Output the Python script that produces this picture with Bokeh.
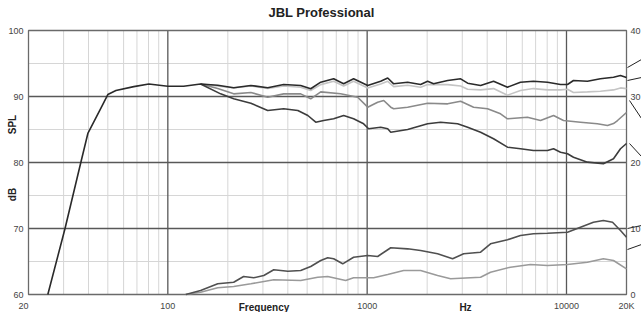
import math
from bokeh.plotting import figure
from bokeh.models import Range1d
from bokeh.core.properties import value
from bokeh.embed import file_html
from bokeh.resources import INLINE

# ---------------- data ----------------
freq_a = [25.0, 30.5, 36.6, 39.7, 46.1, 50.0, 54.9, 67.5, 80.3, 100, 120, 146, 178, 214, 261, 317, 381,
          464, 521, 585, 679, 762, 855, 1006, 1169, 1268, 1359, 1596, 1854, 2010, 2154, 2534, 2944,
          3192, 3707, 4306, 5058, 5875, 6826, 8028, 9333, 10116, 10840, 12740, 14790, 17210, 18660, 20000]
spl_a = [60.0, 70.0, 80.0, 84.4, 88.2, 90.3, 90.9, 91.5, 91.9, 91.56, 91.56, 91.9, 91.7, 91.32, 91.67, 91.32, 91.82,
         91.67, 91.17, 92.17, 92.68, 91.92, 92.68, 91.67, 92.32, 92.8, 91.92, 92.17, 91.82, 92.32, 91.92, 92.42, 92.68,
         92.02, 91.67, 92.32, 91.41, 92.17, 92.32, 92.17, 91.82, 91.82, 92.42, 92.32, 92.68, 92.92, 93.18, 92.88]

freq_b = [146, 214, 261, 317, 381, 464, 521, 585, 679, 762, 855, 1006, 1169, 1268, 1359, 1596, 1854, 2010,
          2534, 2944, 3192, 3707, 4306, 5058, 5875, 6826, 8028, 9333, 10116, 10840, 12740, 14790, 17210, 18660, 20000]
spl_b = [91.9, 91.3, 91.6, 91.2, 91.6, 91.4, 90.9, 91.8, 92.3, 91.6, 92.3, 91.3, 91.9, 92.3, 91.5, 91.7, 91.4, 91.8,
         91.8, 91.6, 91.1, 91.0, 91.2, 90.2, 90.9, 91.2, 91.0, 91.0, 91.1, 90.6, 90.7, 90.8, 91.0, 91.3, 91.2]

freq_c = [146, 178, 214, 261, 317, 381, 464, 521, 585, 736, 896, 1006, 1129, 1211, 1313, 1359, 1596, 2010,
          2534, 2944, 3420, 4017, 4667, 5058, 6368, 7407, 8610, 9660, 11750, 14290, 16060, 17210, 18030, 20000]
spl_c = [91.9, 91.2, 90.4, 90.6, 89.9, 90.4, 90.4, 89.65, 90.7, 90.41, 89.89, 88.38, 89.14, 89.39, 88.38, 88.14, 88.38, 88.98,
         88.89, 89.29, 88.38, 88.14, 87.38, 86.62, 86.86, 86.36, 87.12, 86.36, 86.11, 85.86, 85.61, 85.9, 86.36, 87.58]

freq_d = [146, 184, 214, 261, 317, 381, 449, 504, 552, 605, 679, 762, 855, 960, 1017, 1169, 1268, 1313, 1596,
          2010, 2335, 2842, 3192, 3707, 4306, 5058, 5875, 6826, 8028, 8610, 9333, 10116, 10840, 12740, 15310,
          17210, 18660, 20000]
spl_d = [91.9, 90.4, 89.65, 88.98, 87.88, 88.14, 87.88, 87.12, 86.11, 86.36, 86.62, 87.12, 86.62, 85.86, 85.11, 85.35, 85.11, 84.59, 85.0,
         85.86, 86.11, 85.86, 85.35, 84.59, 83.59, 82.32, 82.08, 81.82, 81.82, 82.08, 81.56, 81.32, 80.80, 80.05, 79.80,
         80.56, 82.08, 82.88]

freq_e = [123, 146, 178, 214, 240, 270, 303, 340, 400, 464, 521, 585, 634, 679, 754, 855, 1006, 1129, 1313, 1596,
          1854, 2256, 2683, 3048, 3707, 4158, 5058, 5875, 6826, 8028, 10116, 11750, 13650, 15310, 17020, 18660, 20000]
spl_e = [60.0, 60.61, 61.62, 61.86, 62.73, 62.53, 62.88, 63.74, 63.53, 63.64, 64.24, 65.15, 65.56, 65.41, 64.65, 65.65, 65.91, 65.76, 67.08, 66.92,
         66.67, 66.17, 65.41, 66.17, 66.41, 67.68, 68.29, 68.94, 69.20, 69.29, 69.44, 70.20, 70.95, 71.21, 70.95, 69.70, 68.68]

freq_f = [123, 146, 178, 214, 261, 340, 464, 565, 634, 780, 855, 1078, 1268, 1524, 1854, 2256, 2622, 3707, 4158,
          5236, 6592, 8028, 10116, 12740, 15310, 17210, 20000]
spl_f = [60.0, 60.35, 61.02, 61.21, 61.62, 62.23, 62.12, 62.62, 62.73, 62.12, 62.53, 62.53, 63.03, 63.64, 63.64, 62.88, 62.38, 62.62, 63.38,
         64.14, 64.55, 64.39, 64.55, 64.89, 65.41, 65.15, 63.89]

x_ticks = [20, 100, 1000, 10000, 20000]
x_tick_labels = ["20", "100", "1000", "10000", "20K"]
y_ticks = [60, 70, 80, 90, 100]
y_tick_labels = ["60", "70", "80", "90", "100"]
right_tick_labels = ["0", "10", "20", "30", "40"]
x_major_grid = [100, 1000, 10000]
x_minor_grid = [m * d for d in (10, 100, 1000) for m in range(2, 10) if 20 < m * d < 20000]
y_major_grid = [70, 80, 90]
y_minor_grid = [65, 75, 85, 95]

# ---------------- layout (screen px) ----------------
W, H = 641, 312
PL, PT, PW, PH = 28, 30, 598, 264          # plot-area box inside the canvas
X0, X1, Y0, Y1 = 20, 20000, 60, 100
DEC = PW / math.log10(X1 / X0)              # px per decade
DBP = PH / (Y1 - Y0)                        # px per dB


def fx(px):
    """canvas x (px) -> frequency"""
    return 10 ** (math.log10(X0) + (px - PL) / DEC)


def fy(py):
    """canvas y (px from top) -> dB"""
    return Y1 - (py - PT) / DBP


p = figure(frame_width=W, frame_height=H, x_axis_type="log",
           x_range=Range1d(fx(0), fx(W)), y_range=Range1d(fy(H), fy(0)),
           x_axis_location=None, y_axis_location=None,
           toolbar_location=None, output_backend="svg", title=None,
           min_border=0)
p.min_border_left = p.min_border_right = p.min_border_top = p.min_border_bottom = 0
p.outline_line_color = None
p.background_fill_color = "white"
p.border_fill_color = "white"
p.xgrid.visible = False
p.ygrid.visible = False

minor_c, major_c = "#d6d6d6", "#585858"
p.segment(x0=x_minor_grid, x1=x_minor_grid, y0=[Y0] * len(x_minor_grid), y1=[Y1] * len(x_minor_grid),
          line_color=minor_c, line_width=1)
p.segment(x0=[X0] * len(y_minor_grid), x1=[X1] * len(y_minor_grid), y0=y_minor_grid, y1=y_minor_grid,
          line_color=minor_c, line_width=1)
p.segment(x0=x_major_grid, x1=x_major_grid, y0=[Y0] * 3, y1=[Y1] * 3, line_color=major_c, line_width=1.3)
p.segment(x0=[X0] * 3, x1=[X1] * 3, y0=y_major_grid, y1=y_major_grid, line_color=major_c, line_width=1.3)
p.quad(left=[X0], right=[X1], bottom=[Y0], top=[Y1], fill_color=None, line_color="#6a6a6a", line_width=1.3)

lw = 1.6
p.line(freq_b, spl_b, line_color="#c4c4c4", line_width=lw)
p.line(freq_c, spl_c, line_color="#8a8a8a", line_width=lw)
p.line(freq_f, spl_f, line_color="#9a9a9a", line_width=lw)
p.line(freq_e, spl_e, line_color="#505050", line_width=lw)
p.line(freq_d, spl_d, line_color="#3c3c3c", line_width=lw)
p.line(freq_a, spl_a, line_color="#2a2a2a", line_width=lw)

# leader lines toward the (cropped) legend on the right
lead_start = [(627, 67), (627, 80), (629, 100), (629, 143), (627, 228), (627, 249)]
lead_end = [(641, 59), (641, 77), (641, 118), (641, 156), (641, 225), (641, 244)]
p.segment(x0=[fx(a) for a, b in lead_start], y0=[fy(b) for a, b in lead_start],
          x1=[fx(a) for a, b in lead_end], y1=[fy(b) for a, b in lead_end],
          line_color="#222222", line_width=1)

F = value("Liberation Sans")
tick_kw = dict(text_font=F, text_font_size="9px", text_color="#444444", text_baseline="middle")
label_y = fy(PT + PH + 11.5)
# bottom ticks
xt = [fx(PL - 5) if t == X0 else t for t in x_ticks]
p.text(x=xt, y=[label_y] * len(xt), text=x_tick_labels, text_align="center", **tick_kw)
# left ticks
p.text(x=[fx(PL - 5)] * len(y_ticks), y=y_ticks, text=y_tick_labels, text_align="right", **tick_kw)
# right ticks
p.text(x=[fx(PL + PW + 4)] * len(y_ticks), y=y_ticks, text=right_tick_labels, text_align="left", **tick_kw)

bold_kw = dict(text_font=F, text_font_style="bold", text_color="#222222",
               text_align="center", text_baseline="middle")
p.text(x=[fx(321)], y=[fy(12)], text=["JBL Professional"], text_font_size="13px", **bold_kw)
p.text(x=[fx(263.5), fx(465)], y=[fy(307)] * 2, text=["Frequency", "Hz"], text_font_size="10px", **bold_kw)
p.text(x=[fx(12), fx(12)], y=[fy(124), fy(194)], text=["SPL", "dB"], angle=math.pi / 2,
       text_font_size="10px", **bold_kw)

open("out.html", "w").write(file_html(p, INLINE))
